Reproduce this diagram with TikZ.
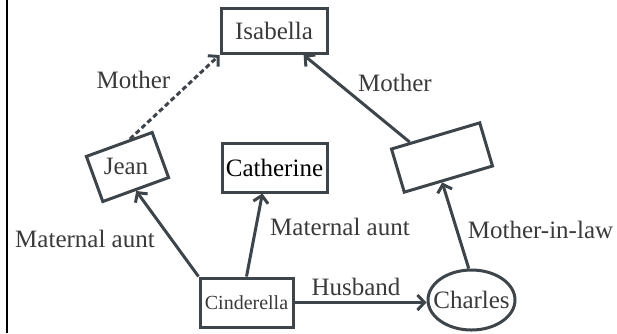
\documentclass[tikz,border=0pt]{standalone}
\usepackage{fontspec}
\setmainfont{Liberation Serif}
\usetikzlibrary{arrows.meta,shapes.geometric}
\definecolor{famline}{RGB}{61,69,75}
\definecolor{famtext}{RGB}{58,58,58}
\newcommand{\namefont}{\fontsize{25}{30}\selectfont}
\tikzset{
    person/.style={
        draw=famline,line width=3pt,inner sep=0pt,
        text=famtext,font=\namefont
    },
    tag/.style={
        text=famtext,font=\namefont,anchor=base
    },
    rel/.style={
        -{Straight Barb[length=7pt,width=15pt]},line width=3pt,draw=famline
    }
}

\begin{document}
\begin{tikzpicture}[x=1pt,y=-1pt]
\useasboundingbox (0,0) rectangle (617,333);
\draw[line width=2.5pt] (7,0) -- (7,333);

% people
\node[person,minimum width=106pt,minimum height=45pt] (isabella) at (274,31) {Isabella};
\node[person,minimum width=105pt,minimum height=49pt,text=black] (catherine) at (274.5,167.5) {Catherine};
\node[person,minimum width=93pt,minimum height=49pt,font=\fontsize{20}{24}\selectfont] (cinderella) at (246.5,302.5) {Cinderella};

% tilted boxes keep their names upright
\node[person,rotate=20,minimum width=70pt,minimum height=48pt] (jean) at (127.5,167) {};
\node[tag,anchor=center] (jeanname) at (126,166) {Jean};
\node[person,rotate=16.5,minimum width=92pt,minimum height=45pt] (inlaw) at (442,157.5) {};
\node[person,ellipse,minimum width=87pt,minimum height=60pt] (charles) at (471.5,300) {};
\node[tag,anchor=center] (charlesname) at (471.5,300) {Charles};

% relations
\draw[rel,dash pattern=on 5pt off 3pt] (jean.65) -- (isabella.south west);
\draw[rel] (inlaw.138) -- (isabella.-39);
\draw[rel] (cinderella.north west) -- (jean.south);
\draw[rel] (cinderella.north) -- (catherine.-115);
\draw[rel] (cinderella.east) -- (cinderella.east -| charles.west);
\draw[rel] (charles.95) -- (inlaw.-106);

% relation names
\node[tag] (mother1) at (133.5,88) {Mother};
\node[tag] (mother2) at (395,91.5) {Mother};
\node[tag] (aunt1) at (85,247) {Maternal aunt};
\node[tag] (aunt2) at (340,235) {Maternal aunt};
\node[tag] (husband) at (356,295) {Husband};
\node[tag] (motherinlaw) at (540.5,238) {Mother-in-law};
\end{tikzpicture}
\end{document}
